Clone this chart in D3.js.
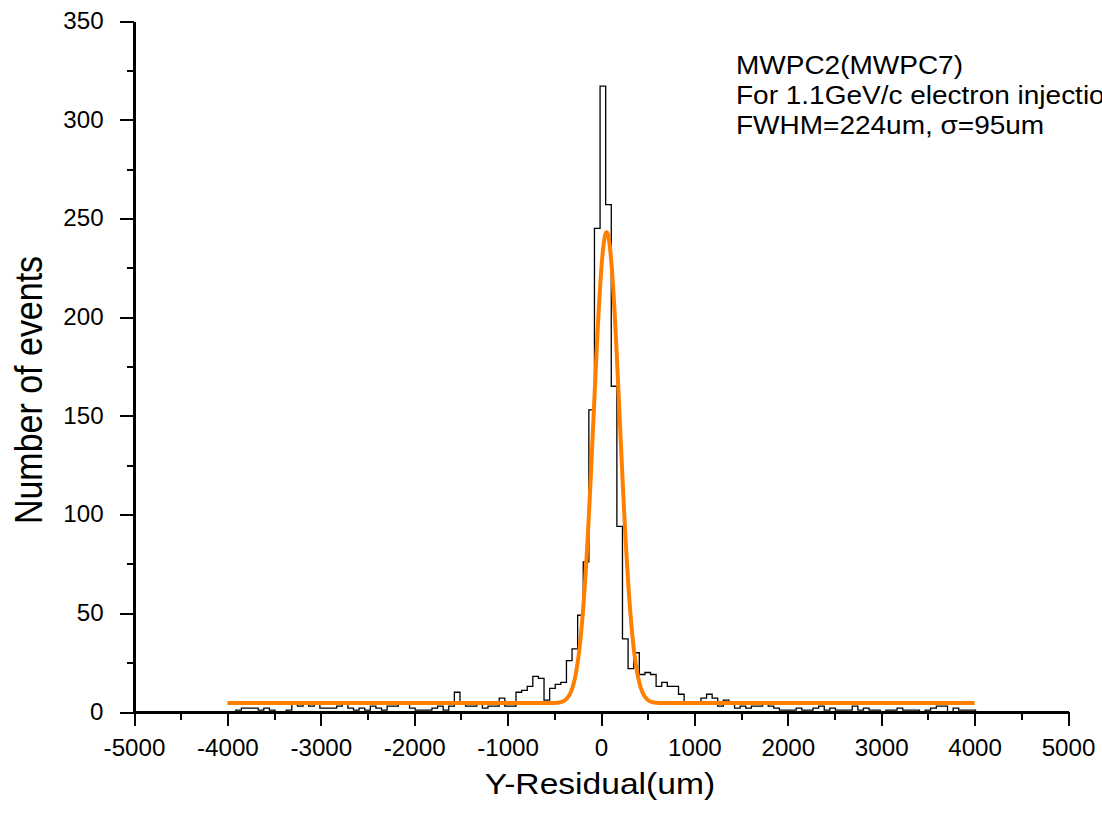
<!DOCTYPE html>
<meta charset="utf-8" />
<style>
  body { margin: 0; background: #fff; }
  svg text { font-family: Arial, "Liberation Sans", sans-serif; fill: #000; }
  .axis path, .axis line { stroke: #000; shape-rendering: crispEdges; }
</style>
<svg width="1102" height="820"></svg>
<script src="https://cdn.jsdelivr.net/npm/d3@7"></script>
<script>
  // histogram: 60um bins, first left edge at -3910um
  var binStart = -3910;
  var binWidth = 60;
  var counts = [
    1, 2, 2, 2, 1, 2, 1, 0, 0, 1,
    4, 3, 4, 3, 4, 2, 2, 2, 3, 4,
    2, 1, 2, 1, 3, 2, 1, 3, 3, 4,
    4, 2, 1, 1, 1, 2, 3, 1, 3, 10,
    4, 3, 3, 4, 2, 3, 3, 7, 3, 3,
    10, 11, 13, 18, 17, 6, 12, 14, 15, 26,
    32, 49, 76, 153, 245, 317, 257, 165, 94, 37,
    22, 30, 19, 20, 19, 13, 15, 13, 13, 9,
    5, 5, 5, 7, 9, 7, 3, 6, 4, 2,
    3, 2, 3, 3, 4, 3, 2, 1, 1, 1,
    2, 1, 1, 2, 3, 1, 2, 1, 1, 1,
    3, 1, 2, 1, 1, 0, 1, 1, 2, 1,
    1, 1, 0, 1, 2, 3, 3, 0, 2, 1,
    1, 1
  ];

  // gaussian fit as drawn (offset, amplitude, centre, sigma in um)
  var fitY0 = 4.5;
  var fitA = 238.5;
  var fitXc = 60;
  var fitSigma = 140;
  var fitRange = [-4000, 4000];

  var xTicks = [-5000, -4000, -3000, -2000, -1000, 0, 1000, 2000, 3000, 4000, 5000];
  var yTicks = [0, 50, 100, 150, 200, 250, 300, 350];
  var infoLines = ["MWPC2(MWPC7)", "For 1.1GeV/c electron injection", "FWHM=224um, \u03c3=95um"];

  var stretch = 1.12; // the original's text is a bit wide

  var svg = d3.select("svg");
  var margin = { top: 21, left: 134 };
  var w = 934, h = 691;

  var x = d3.scaleLinear().domain([-5000, 5000]).range([0, w]);
  var y = d3.scaleLinear().domain([0, 350]).range([h, 0]);

  var g = svg.append("g")
    .attr("transform", "translate(" + margin.left + "," + margin.top + ")");

  // minor ticks
  g.append("g")
    .attr("class", "axis")
    .attr("transform", "translate(0," + h + ")")
    .call(d3.axisBottom(x).tickValues(d3.range(-4500, 5000, 1000)).tickSize(8).tickFormat(""))
    .call(function(s) { s.select(".domain").remove(); s.selectAll("line").attr("stroke-width", 2); });
  g.append("g")
    .attr("class", "axis")
    .call(d3.axisLeft(y).tickValues(d3.range(25, 350, 50)).tickSize(7).tickFormat(""))
    .call(function(s) { s.select(".domain").remove(); s.selectAll("line").attr("stroke-width", 2); });

  var xAxis = g.append("g")
    .attr("class", "axis")
    .attr("transform", "translate(0," + h + ")")
    .call(d3.axisBottom(x).tickValues(xTicks).tickSize(14).tickSizeOuter(0).tickPadding(13)
      .tickFormat(function(d) { return String(d); }));
  xAxis.select(".domain").attr("stroke-width", 2.5);
  xAxis.selectAll("line").attr("stroke-width", 2);
  xAxis.selectAll("text").attr("font-size", 23).attr("dy", "0.75em")
    .attr("transform", "scale(1.05,1)");

  var yAxis = g.append("g")
    .attr("class", "axis")
    .call(d3.axisLeft(y).tickValues(yTicks).tickSize(14).tickSizeOuter(0).tickPadding(15)
      .tickFormat(function(d) { return String(d); }));
  yAxis.select(".domain").attr("stroke-width", 2.5);
  yAxis.selectAll("line").attr("stroke-width", 2);
  yAxis.selectAll("text").attr("font-size", 23)
    .attr("transform", "scale(1.05,1)");

  // histogram step outline
  var pts = [[binStart, 0]];
  counts.forEach(function(c, i) {
    var e0 = binStart + i * binWidth;
    pts.push([e0, c]);
    pts.push([e0 + binWidth, c]);
  });
  pts.push([binStart + counts.length * binWidth, 0]);

  var line = d3.line()
    .x(function(d) { return x(d[0]); })
    .y(function(d) { return y(d[1]); });

  g.append("path")
    .datum(pts)
    .attr("fill", "none")
    .attr("stroke", "#000")
    .attr("stroke-width", 1.3)
    .attr("d", line);

  // fit curve
  var fitPts = d3.range(fitRange[0], fitRange[1] + 1, 5).map(function(v) {
    var d = (v - fitXc) / fitSigma;
    return [v, fitY0 + fitA * Math.exp(-0.5 * d * d)];
  });
  g.append("path")
    .datum(fitPts)
    .attr("fill", "none")
    .attr("stroke", "#ff8000")
    .attr("stroke-width", 4)
    .attr("stroke-linejoin", "round")
    .attr("d", line);

  // annotation (second line runs off the right edge, as in the original)
  var info = svg.append("g")
    .attr("transform", "translate(736,74) scale(" + stretch + ",1)")
    .append("text").attr("font-size", 25);
  infoLines.forEach(function(t, i) {
    info.append("tspan").attr("x", 0).attr("y", i * 30).text(t);
  });

  // axis titles
  svg.append("g")
    .attr("transform", "translate(600,794) scale(" + stretch + ",1)")
    .append("text")
    .attr("text-anchor", "middle")
    .attr("font-size", 30)
    .text("Y-Residual(um)");
  svg.append("g")
    .attr("transform", "translate(42,390) scale(" + stretch + ",1) rotate(-90)")
    .append("text")
    .attr("text-anchor", "middle")
    .attr("font-size", 34)
    .text("Number of events");
</script>
